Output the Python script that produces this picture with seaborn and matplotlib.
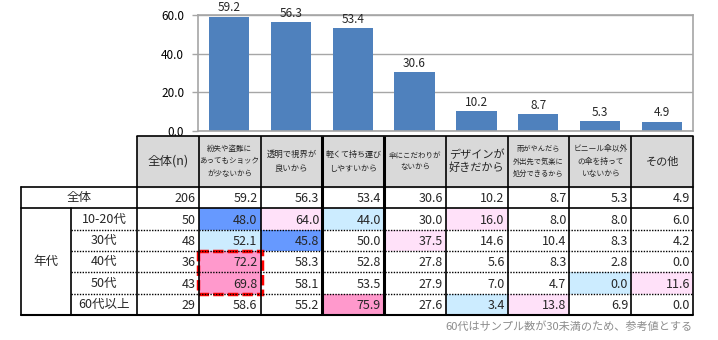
import numpy as np
import pandas as pd
import matplotlib
matplotlib.use("Agg")
import matplotlib.pyplot as plt
from matplotlib.colors import ListedColormap
from matplotlib.patches import Rectangle
import seaborn as sns

# ---------------- data ----------------
reasons = [
    "紛失や盗難に\nあってもショック\nが少ないから",
    "透明で視界が\n良いから",
    "軽くて持ち運び\nしやすいから",
    "傘にこだわりが\nないから",
    "デザインが\n好きだから",
    "雨がやんだら\n外出先で気楽に\n処分できるから",
    "ビニール傘以外\nの傘を持って\nいないから",
    "その他",
]
overall = [59.2, 56.3, 53.4, 30.6, 10.2, 8.7, 5.3, 4.9]
n_header = "全体(n)"
row_labels = ["全体", "10-20代", "30代", "40代", "50代", "60代以上"]
group_label = "年代"
n_values = [206, 50, 48, 36, 43, 29]
v_1020 = [48.0, 64.0, 44.0, 30.0, 16.0, 8.0, 8.0, 6.0]
v_30 = [52.1, 45.8, 50.0, 37.5, 14.6, 10.4, 8.3, 4.2]
v_40 = [72.2, 58.3, 52.8, 27.8, 5.6, 8.3, 2.8, 0.0]
v_50 = [69.8, 58.1, 53.5, 27.9, 7.0, 4.7, 0.0, 11.6]
v_60 = [58.6, 55.2, 75.9, 27.6, 3.4, 13.8, 6.9, 0.0]
# highlight classes: 0 none, 1 low, 2 lowest, 3 high, 4 highest
hl_all = [0, 0, 0, 0, 0, 0, 0, 0]
hl_1020 = [2, 3, 1, 0, 3, 0, 0, 0]
hl_30 = [1, 2, 0, 3, 0, 0, 0, 0]
hl_40 = [4, 0, 0, 0, 0, 0, 0, 0]
hl_50 = [4, 0, 0, 0, 0, 0, 1, 3]
hl_60 = [0, 0, 4, 0, 1, 3, 0, 0]
footnote = "60代はサンプル数が30未満のため、参考値とする"

# ---------------- style ----------------
sns.set_theme(style="white")
plt.rcParams["font.family"] = ["Noto Sans CJK JP", "DejaVu Sans"]

W, H = 718, 340
fig = plt.figure(figsize=(W / 100, H / 100), dpi=100)


def px_axes(x0, y0, x1, y1):
    return fig.add_axes([x0 / W, 1 - y1 / H, (x1 - x0) / W, (y1 - y0) / H])


# ---------------- bar chart ----------------
ax = px_axes(198, 15, 693, 131)
df = pd.DataFrame({"reason": reasons, "value": overall})
sns.barplot(data=df, x="reason", y="value", color="#4F81BD", saturation=1,
            width=0.65, ax=ax, errorbar=None, linewidth=0)
ax.set_xlim(-0.5, len(reasons) - 0.5)
ax.set_ylim(0, 60)
ax.set_yticks([0, 20, 40, 60])
ax.set_yticklabels([f"{t:.1f}" for t in [0, 20, 40, 60]])
ax.set_xticks([])
ax.set_xlabel("")
ax.set_ylabel("")
ax.yaxis.grid(True, color="#A6A6A6", lw=1)
ax.set_axisbelow(True)
for s in ax.spines.values():
    s.set_color("#A6A6A6")
    s.set_linewidth(1.2)
ax.tick_params(axis="y", left=True, length=4, width=1, color="#A6A6A6",
               pad=6, labelsize=8.5, labelcolor="black")
ax.bar_label(ax.containers[0], fmt="%.1f", padding=1.5, fontsize=8.5)

# ---------------- table ----------------
values = np.array([overall, v_1020, v_30, v_40, v_50, v_60])
table = np.column_stack([n_values, values])
hl = np.column_stack([np.zeros(6, dtype=int),
                      np.array([hl_all, hl_1020, hl_30, hl_40, hl_50, hl_60])])

tx0, tx1 = 137, 693
ty0, ty1 = 187, 315
hy0 = 136
lx0, lx1 = 21, 71

hax = px_axes(tx0, ty0, tx1, ty1)
cmap = ListedColormap(["#FFFFFF", "#CCECFF", "#6699FF", "#FFE1F9", "#FF99CC"])
sns.heatmap(hl, cmap=cmap, vmin=-0.5, vmax=4.5, cbar=False, ax=hax,
            xticklabels=False, yticklabels=False)
nr, nc = table.shape
for i in range(nr):
    for j in range(nc):
        v = table[i, j]
        s = f"{int(v)}" if j == 0 else f"{v:.1f}"
        hax.text(j + 0.95, i + 0.55, s, ha="right", va="center", fontsize=9)

# red dashed highlight box (40代 & 50代, first reason)
hax.add_patch(Rectangle((0.98, 3.0), 1.04, 2.0, fill=False, ec="#FF0000", lw=2.5,
                        ls=(0, (3, 1.2)), clip_on=False, zorder=5))

# overlay for header, labels and grid lines (pixel coordinates)
ov = fig.add_axes([0, 0, 1, 1])
ov.set_xlim(0, W)
ov.set_ylim(H, 0)
ov.axis("off")

col_edges = np.linspace(tx0, tx1, nc + 1)
row_edges = np.linspace(ty0, ty1, nr + 1)
col_centers = (col_edges[:-1] + col_edges[1:]) / 2
row_centers = (row_edges[:-1] + row_edges[1:]) / 2

ov.add_patch(Rectangle((tx0, hy0), tx1 - tx0, ty0 - hy0, color="#D9D9D9", zorder=0))

headers = [n_header] + reasons
h_sizes = [9, 5.4, 6.0, 5.8, 5.4, 8.0, 5.2, 5.6, 8.0]
h_ls = [1.0, 1.75, 1.6, 1.6, 1.6, 1.3, 1.75, 1.75, 1.0]
hy = (hy0 + ty0) / 2
for x, t, fs, ls in zip(col_centers, headers, h_sizes, h_ls):
    ov.text(x, hy, t, ha="center", va="center", fontsize=fs, linespacing=ls,
            multialignment="center")

# row labels
ov.text((lx0 + tx0) / 2, row_centers[0], row_labels[0], ha="center", va="center", fontsize=9)
ov.text((lx0 + lx1) / 2, (row_edges[1] + row_edges[-1]) / 2, group_label,
        ha="center", va="center", fontsize=9)
for yc, lab in zip(row_centers[1:], row_labels[1:]):
    ov.text((lx1 + tx0) / 2, yc, lab, ha="center", va="center", fontsize=9)

lc = "black"
# vertical lines
for k, x in enumerate(col_edges):
    lw = 2.2 if k in (3, 4) else 1.2
    ov.plot([x, x], [hy0, ty1], color=lc, lw=lw, solid_capstyle="butt")
ov.plot([lx0, lx0], [ty0, ty1], color=lc, lw=1.2)
ov.plot([lx1, lx1], [row_edges[1], ty1], color=lc, lw=1.2)
# horizontal lines
ov.plot([tx0, tx1], [hy0, hy0], color=lc, lw=1.2)
ov.plot([lx0, tx1], [ty0, ty0], color=lc, lw=1.2)
ov.plot([lx0, tx1], [row_edges[1], row_edges[1]], color=lc, lw=1.2)
ov.plot([lx0, tx1], [ty1, ty1], color=lc, lw=1.5)
for y in row_edges[2:-1]:
    ov.plot([lx1, tx1], [y, y], color=lc, lw=1, ls=(0, (1, 1)))

ov.text(tx1 - 1, 327, footnote, ha="right", va="center", fontsize=8, color="#8C8C8C")

fig.savefig("out.png", dpi=100)
